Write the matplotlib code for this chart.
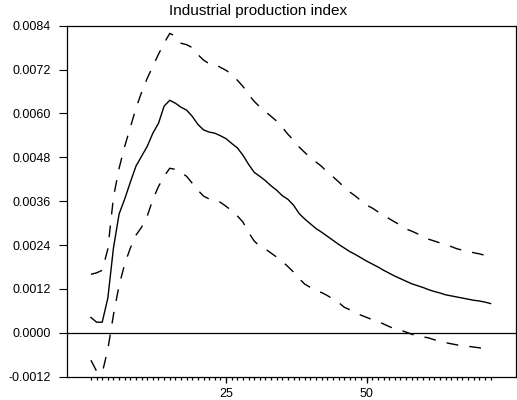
import numpy as np
import matplotlib
matplotlib.use("Agg")
import matplotlib.pyplot as plt
from matplotlib.ticker import FixedLocator, FixedFormatter

plt.rcParams['font.family'] = ['Liberation Sans', 'DejaVu Sans']
plt.rcParams['font.size'] = 9

# odpowiedz impulsowa i pasma ufnosci, okresy 1..72
okresy = np.arange(1, 73)
odpowiedz = [
    0.00042, 0.00029, 0.00029, 0.00095, 0.00232, 0.00325, 0.00366, 0.00412, 0.00456, 0.00483,
    0.00510, 0.00546, 0.00573, 0.00620, 0.00636, 0.00628, 0.00617, 0.00609, 0.00592, 0.00570,
    0.00555, 0.00549, 0.00546, 0.00539, 0.00531, 0.00518, 0.00506, 0.00486, 0.00461, 0.00439,
    0.00428, 0.00416, 0.00402, 0.00390, 0.00375, 0.00365, 0.00349, 0.00326, 0.00311, 0.00298,
    0.00285, 0.00275, 0.00264, 0.00253, 0.00242, 0.00232, 0.00222, 0.00214, 0.00205, 0.00196,
    0.00188, 0.00180, 0.00171, 0.00163, 0.00155, 0.00148, 0.00141, 0.00134, 0.00129, 0.00124,
    0.00118, 0.00113, 0.00109, 0.00104, 0.00101, 0.00098, 0.00095, 0.00092, 0.00089, 0.00087,
    0.00084, 0.00080]
gorna = [
    0.00160, 0.00164, 0.00171, 0.00229, 0.00371, 0.00450, 0.00510, 0.00562, 0.00614, 0.00658,
    0.00696, 0.00729, 0.00762, 0.00792, 0.00819, 0.00811, 0.00792, 0.00788, 0.00780, 0.00761,
    0.00746, 0.00736, 0.00735, 0.00726, 0.00718, 0.00707, 0.00691, 0.00674, 0.00652, 0.00633,
    0.00618, 0.00605, 0.00592, 0.00579, 0.00562, 0.00543, 0.00527, 0.00508, 0.00493, 0.00479,
    0.00467, 0.00455, 0.00439, 0.00427, 0.00413, 0.00398, 0.00385, 0.00374, 0.00361, 0.00349,
    0.00341, 0.00331, 0.00322, 0.00312, 0.00303, 0.00294, 0.00284, 0.00278, 0.00271, 0.00264,
    0.00256, 0.00251, 0.00246, 0.00241, 0.00236, 0.00230, 0.00226, 0.00223, 0.00219, 0.00216,
    0.00212, 0.00210]
dolna = [
    -0.00075, -0.00105, -0.00110, -0.00045, 0.00049, 0.00130, 0.00188, 0.00232, 0.00267, 0.00289,
    0.00319, 0.00365, 0.00400, 0.00428, 0.00450, 0.00447, 0.00438, 0.00428, 0.00409, 0.00390,
    0.00374, 0.00366, 0.00364, 0.00357, 0.00346, 0.00334, 0.00320, 0.00303, 0.00275, 0.00251,
    0.00237, 0.00229, 0.00218, 0.00207, 0.00195, 0.00181, 0.00166, 0.00148, 0.00133, 0.00124,
    0.00115, 0.00110, 0.00102, 0.00092, 0.00083, 0.00070, 0.00063, 0.00055, 0.00048, 0.00042,
    0.00036, 0.00031, 0.00024, 0.00017, 0.00011, 0.00007, 0.00002, -0.00004, -0.00008, -0.00011,
    -0.00014, -0.00019, -0.00023, -0.00027, -0.00030, -0.00033, -0.00035, -0.00037, -0.00039, -0.00041,
    -0.00043, -0.00045]

yTicks = [-0.0012, 0.0, 0.0012, 0.0024, 0.0036, 0.0048, 0.0060, 0.0072, 0.0084]
xTicks = [25, 50]

fig = plt.figure(figsize=(5.17, 4.0), dpi=100)
ax = fig.add_axes([0.129, 0.0583, 0.8685, 0.8775])

ax.axhline(0, color="black", linewidth=0.9)
ax.plot(okresy, odpowiedz, color="black", linewidth=1.0)
ax.plot(okresy, gorna, color="black", linewidth=1.0, dashes=(8.5, 8))
ax.plot(okresy, dolna, color="black", linewidth=1.0, dashes=(8.5, 8))

ax.set_xlim(-3.31, 76.47)
ax.set_ylim(-0.0012, 0.0084)

ax.yaxis.set_major_locator(FixedLocator(yTicks))
ax.yaxis.set_major_formatter(FixedFormatter(["%.4f" % v for v in yTicks]))
ax.tick_params(axis="y", direction="out", length=6, width=0.8, pad=5.5)

# opisy przy 25 i 50, krotkie kreski przy kazdym okresie
ax.xaxis.set_major_locator(FixedLocator(xTicks))
ax.xaxis.set_minor_locator(FixedLocator([float(t) for t in okresy]))
ax.tick_params(axis="x", which="major", direction="out", length=4.5, width=0.9, pad=4,
               color="black")
ax.tick_params(axis="x", which="minor", direction="out", length=2.4, width=0.9,
               color="black", bottom=True)
ax.xaxis.remove_overlapping_locs = False

for s in ax.spines.values():
    s.set_linewidth(0.9)

fig.text(0.5, 0.972, "Industrial production index", ha="center", va="center", fontsize=11)

fig.savefig("out.png", dpi=100)
